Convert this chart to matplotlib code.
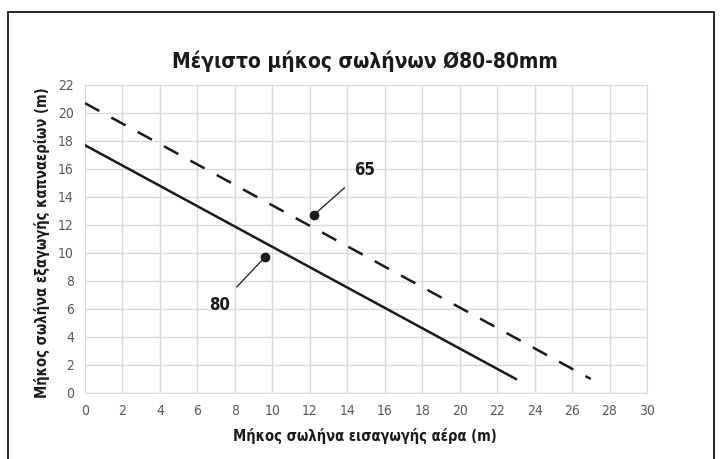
import matplotlib
matplotlib.use("Agg")
import matplotlib.pyplot as plt
from matplotlib import font_manager
from matplotlib.font_manager import FontProperties
from matplotlib.patches import Rectangle

# data
x_80 = [0, 23]
y_80 = [17.7, 1.0]
x_65 = [0, 27]
y_65 = [20.7, 1.0]
xticks = list(range(0, 31, 2))
yticks = list(range(0, 23, 2))
title = "Μέγιστο μήκος σωλήνων Ø80-80mm"
xlabel = "Μήκος σωλήνα εισαγωγής αέρα (m)"
ylabel = "Μήκος σωλήνα εξαγωγής καπναερίων (m)"
labels = ["65", "80"]
dots = [(12.2, 12.7), (9.6, 9.7)]
texts = [(14.9, 15.9), (7.2, 6.3)]

# look for a condensed face, like the narrow font of the original
bold_file = None
reg_file = None
for f in font_manager.fontManager.ttflist:
    fn = f.fname.lower()
    if "condensed" in fn or "narrow" in fn:
        if "bold" in fn and "oblique" not in fn and "italic" not in fn and bold_file is None:
            bold_file = f.fname
        if "bold" not in fn and "oblique" not in fn and "italic" not in fn and "light" not in fn and reg_file is None:
            reg_file = f.fname

def fp_bold(size):
    if bold_file:
        return FontProperties(fname=bold_file, size=size)
    return FontProperties(family="DejaVu Sans", weight="bold", size=size * 0.8)

def fp_reg(size):
    if reg_file:
        return FontProperties(fname=reg_file, size=size)
    return FontProperties(family="DejaVu Sans", size=size * 0.85)

fig = plt.figure(figsize=(7.21, 4.59), dpi=100)
fig.patches.append(Rectangle((8/721, -0.01), (714-8)/721, (459-12)/459 + 0.01,
                             transform=fig.transFigure, fill=False,
                             edgecolor="black", linewidth=1.2))

ax = fig.add_axes([85/721, 1-393/459, (647-85)/721, (393-85)/459])
ax.plot(x_80, y_80, color="#1a1a1a", lw=1.8)
ax.plot(x_65, y_65, color="#1a1a1a", lw=1.8, dashes=(6.5, 5.5))

for lab, (dx, dy), (tx, ty) in zip(labels, dots, texts):
    ax.plot(dx, dy, "o", color="#1a1a1a", ms=6)
    ax.annotate(lab, xy=(dx, dy), xytext=(tx, ty), ha="center", va="center",
                fontproperties=fp_bold(12), color="#1a1a1a",
                arrowprops=dict(arrowstyle="-", color="#1a1a1a", lw=0.9,
                                shrinkA=6, shrinkB=0))

ax.set_xlim(0, 30)
ax.set_ylim(0, 22)
ax.set_xticks(xticks)
ax.set_yticks(yticks)
ax.tick_params(length=0, colors="#595959", pad=8)
for t in ax.get_xticklabels() + ax.get_yticklabels():
    t.set_fontproperties(fp_reg(10))
ax.grid(True, color="#d9d9d9", lw=1)
for s in ["top", "left"]:
    ax.spines[s].set_visible(False)
for s in ["bottom", "right"]:
    ax.spines[s].set_color("#d9d9d9")

fig.text(365/721, 1-61/459, title, ha="center", va="center",
         fontproperties=fp_bold(15), color="#1a1a1a")
fig.text(365/721, 1-436/459, xlabel, ha="center", va="center",
         fontproperties=fp_bold(10.5), color="#1a1a1a")
fig.text(42/721, 1-243/459, ylabel, ha="center", va="center", rotation=90,
         fontproperties=fp_bold(10.5), color="#1a1a1a")

fig.savefig("out.png", dpi=100)
